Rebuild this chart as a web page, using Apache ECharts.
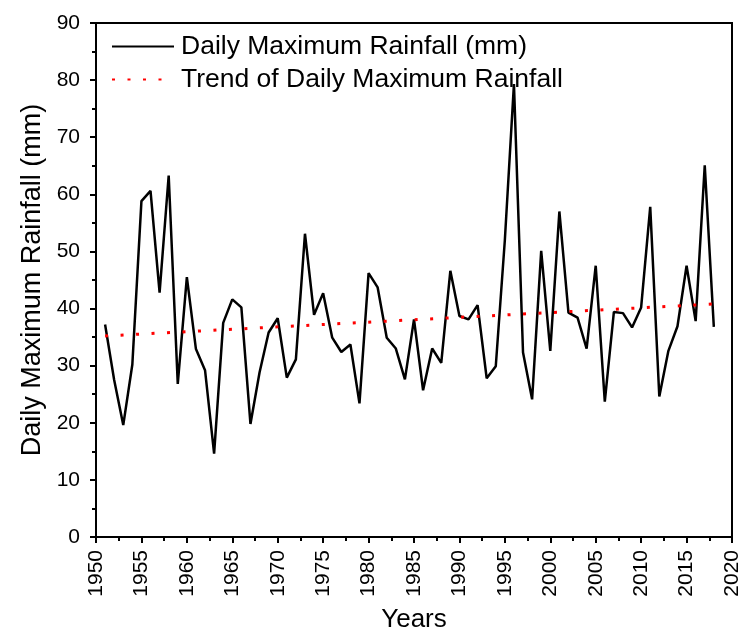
<!DOCTYPE html>
<html>
<head>
<meta charset="utf-8">
<script src="https://cdn.jsdelivr.net/npm/echarts@6/dist/echarts.min.js"></script>
<style>html,body{margin:0;padding:0;background:#fff}#c{width:742px;height:632px}</style>
</head>
<body>
<div id="c"></div>
<script>
var years = [];
for (var y = 1951; y <= 2018; y++) years.push(y);
var rainfall = [37.2, 27.5, 19.6, 30.2, 58.8, 60.6, 42.8, 63.3, 26.8, 45.5,
  32.9, 29.2, 14.6, 37.5, 41.6, 40.2, 19.8, 28.8, 35.8, 38.3,
  27.9, 31.1, 53.1, 38.9, 42.7, 34.9, 32.4, 33.7, 23.4, 46.2,
  43.7, 34.9, 33.0, 27.6, 38.1, 25.7, 33.0, 30.5, 46.6, 38.7,
  38.1, 40.6, 27.8, 29.9, 52.0, 79.3, 32.3, 24.1, 50.1, 32.6,
  57.0, 39.3, 38.4, 33.0, 47.5, 23.7, 39.4, 39.2, 36.7, 40.2,
  57.8, 24.6, 32.6, 36.9, 47.5, 37.8, 65.1, 36.8];
var trendYears = [1951, 2018];
var trendValues = [35.2, 40.8];
var seriesNames = ['Daily Maximum Rainfall (mm)', 'Trend of Daily Maximum Rainfall'];

var font = 'Arial, "Liberation Sans", sans-serif';
var chart = echarts.init(document.getElementById('c'), null, {renderer: 'canvas'});
chart.setOption({
  animation: false,
  backgroundColor: '#fff',
  grid: {left: 96, right: 10, top: 23, bottom: 95, containLabel: false, outerBoundsMode: 'none',
    show: true, borderColor: '#000', borderWidth: 2, backgroundColor: 'transparent'},
  legend: {
    orient: 'vertical', left: 106, top: 28, itemWidth: 62, itemHeight: 14, itemGap: 6,
    textStyle: {fontFamily: font, fontSize: 26.5, color: '#000', padding: [0, 0, 0, 2]},
    data: seriesNames.map(function (n) { return {name: n, itemStyle: {opacity: 0}}; })
  },
  xAxis: {
    type: 'value', min: 1950, max: 2020, interval: 5,
    name: 'Years', nameLocation: 'middle', nameGap: 70,
    nameTextStyle: {fontFamily: font, fontSize: 26, color: '#000'},
    axisLine: {show: true, lineStyle: {color: '#000', width: 2}},
    axisTick: {show: true, inside: false, length: 6, lineStyle: {color: '#000', width: 2}},
    minorTick: {show: true, splitNumber: 2, length: 4, lineStyle: {color: '#000', width: 2}},
    axisLabel: {rotate: 90, fontFamily: font, fontSize: 21, color: '#000', margin: 13,
      formatter: function (v) { return String(v); }},
    splitLine: {show: false}
  },
  yAxis: {
    type: 'value', min: 0, max: 90, interval: 10,
    name: 'Daily Maximum Rainfall (mm)', nameLocation: 'middle', nameGap: 48,
    nameTextStyle: {fontFamily: font, fontSize: 27, color: '#000'},
    axisLine: {show: true, lineStyle: {color: '#000', width: 2}},
    axisTick: {show: true, inside: false, length: 6, lineStyle: {color: '#000', width: 2}},
    minorTick: {show: true, splitNumber: 2, length: 4, lineStyle: {color: '#000', width: 2}},
    axisLabel: {fontFamily: font, fontSize: 21, color: '#000', margin: 16},
    splitLine: {show: false}
  },
  series: [
    {
      name: seriesNames[0], type: 'line', symbol: 'none',
      data: years.map(function (yr, i) { return [yr, rainfall[i]]; }),
      lineStyle: {color: '#000', width: 2.5}, itemStyle: {color: '#000'}
    },
    {
      name: seriesNames[1], type: 'line', symbol: 'none',
      data: trendYears.map(function (yr, i) { return [yr, trendValues[i]]; }),
      lineStyle: {color: '#ff0000', width: 3, type: [3, 12.5]}, itemStyle: {color: '#ff0000'}
    }
  ]
});
</script>
</body>
</html>
